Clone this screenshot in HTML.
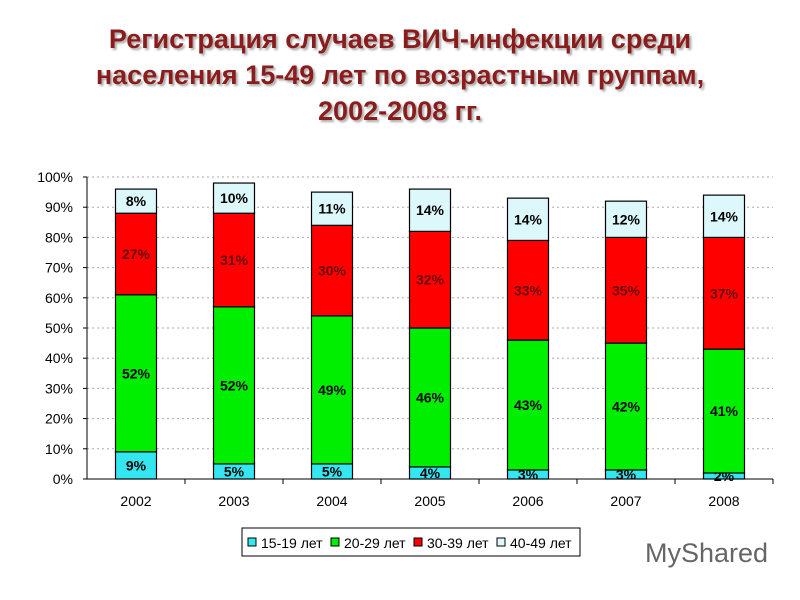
<!DOCTYPE html>
<html><head><meta charset="utf-8"><style>
body{margin:0;background:#fff;width:800px;height:600px;overflow:hidden;font-family:"Liberation Sans",sans-serif}
#title{position:absolute;left:0;top:21px;width:800px;text-align:center;font-weight:bold;font-size:27px;line-height:36px;color:#8b1c1c;text-shadow:2px 2px 2px #aaa}
</style></head><body>
<div id="title">Регистрация случаев ВИЧ-инфекции среди<br>населения 15-49 лет по возрастным группам,<br>2002-2008 гг.</div>
<svg id="chart" width="800" height="600" style="position:absolute;left:0;top:0"></svg>
<script>
const years=["2002","2003","2004","2005","2006","2007","2008"];
const s1519=[9,5,5,4,3,3,2];
const s2029=[52,52,49,46,43,42,41];
const s3039=[27,31,30,32,33,35,37];
const s4049=[8,10,11,14,14,12,14];
const yTicks=[0,10,20,30,40,50,60,70,80,90,100];
const seriesNames=["15-19 лет","20-29 лет","30-39 лет","40-49 лет"];
const colors=["#33e6ef","#00ee00","#ff0000","#ddf8fb"];
const ns="http://www.w3.org/2000/svg";
const svg=document.getElementById('chart');
const X0=87,CW=98,Y0=479,YH=302,BW=41;
const y=v=>Y0-v/100*YH;
const xc=i=>X0+CW*(i+0.5);
function mk(t,a){const e=document.createElementNS(ns,t);for(const k in a)e.setAttribute(k,a[k]);svg.appendChild(e);return e;}
yTicks.forEach(t=>{
 if(t>0){const g=mk('line',{x1:X0,x2:X0+CW*7,y1:y(t),y2:y(t),stroke:'#aaa','stroke-dasharray':'2,3'});
 
 }
 const l=mk('text',{x:X0-14,y:y(t)+5,'text-anchor':'end','font-size':14,fill:'#000'});
 
 
 l.textContent=t+'%';
 mk('line',{x1:X0-4,x2:X0,y1:y(t),y2:y(t),stroke:'#000'});
});
const ax=mk('line',{x1:X0,x2:X0,y1:y(100),y2:Y0,stroke:'#000'});


const xa=mk('line',{x1:X0,x2:X0+CW*7,y1:Y0,y2:Y0,stroke:'#000'});


const all=[s1519,s2029,s3039,s4049];
years.forEach((yr,i)=>{
 mk('line',{x1:X0+CW*(i+1),x2:X0+CW*(i+1),y1:Y0,y2:Y0+5,stroke:'#000'});
 const xl=mk('text',{x:xc(i),y:Y0+27,'text-anchor':'middle','font-size':14});
 
 
 xl.textContent=yr;
 let acc=0;
 all.forEach((s,k)=>{
  const v=s[i];
  const r=mk('rect',{x:xc(i)-BW/2,y:y(acc+v),width:BW,height:v/100*YH,fill:colors[k],stroke:'#000','stroke-width':1.2});
  
  
  const t=mk('text',{x:xc(i),y:y(acc+v/2)+5,'text-anchor':'middle','font-size':14,'font-weight':'bold',fill:k==2?'#600':'#000'});
  
  
  t.textContent=v+'%';
  acc+=v;
 });
});
const lg=mk('rect',{x:242,y:528,width:338,height:28,fill:'#fff',stroke:'#000'});


const lx=[248,331,414,497];
seriesNames.forEach((n,k)=>{
 const sw=mk('rect',{x:lx[k],y:538,width:8,height:8,fill:colors[k],stroke:'#000'});
 
 
 const t=mk('text',{x:lx[k]+13,y:548,'font-size':14});
 
 
 t.textContent=n;
});
const wm=mk('text',{x:645,y:562,'font-size':27,fill:'#666'});


wm.textContent='MyShared';
</script>
</body></html>
